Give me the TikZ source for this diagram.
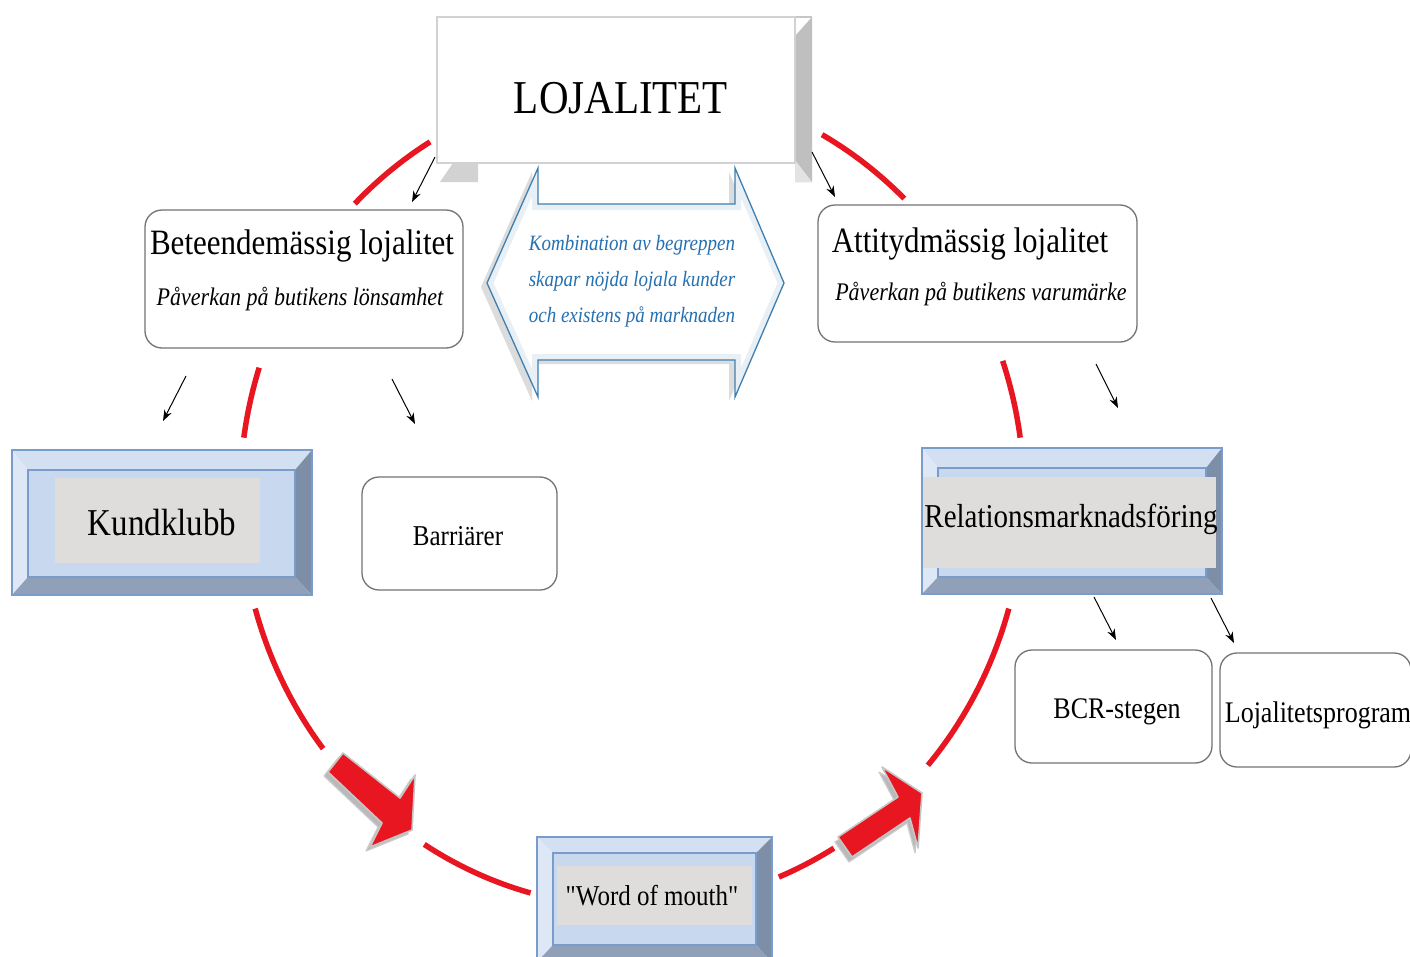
\documentclass[tikz,border=0pt]{standalone}
\usepackage{fontspec}
\setmainfont{Liberation Serif}
\newfontfamily\qfont{Liberation Serif}
\usepackage{graphicx}
\usetikzlibrary{arrows.meta}
\definecolor{redc}{RGB}{232,22,32}
\definecolor{hexblue}{RGB}{62,127,176}
\definecolor{hextext}{RGB}{37,112,176}
\definecolor{bvtopc}{RGB}{211,224,242}
\definecolor{bvleftc}{RGB}{222,231,245}
\definecolor{bvrightc}{RGB}{125,143,168}
\definecolor{bvbottomc}{RGB}{143,160,184}
\definecolor{bvfacec}{RGB}{200,216,238}
\definecolor{bvlinec}{RGB}{122,156,203}
\definecolor{textbgc}{RGB}{222,221,219}
\newcommand{\vs}[1]{\scalebox{1}[1.15]{#1}}
\newcommand{\fs}[1]{\fontsize{#1}{#1}\selectfont}
\newcommand{\bvbox}[8]{%
 \fill[bvtopc] (#1,#2) -- (#3,#2) -- (#7,#6) -- (#5,#6) -- cycle;
 \fill[bvleftc] (#1,#2) -- (#5,#6) -- (#5,#8) -- (#1,#4) -- cycle;
 \fill[bvrightc] (#3,#2) -- (#3,#4) -- (#7,#8) -- (#7,#6) -- cycle;
 \fill[bvbottomc] (#1,#4) -- (#3,#4) -- (#7,#8) -- (#5,#8) -- cycle;
 \fill[bvfacec] (#5,#6) rectangle (#7,#8);
 \draw[bvlinec, line width=1.2] (#1,#2) rectangle (#3,#4);
 \draw[bvlinec, line width=1.2] (#5,#6) rectangle (#7,#8);
}
\begin{document}
\begin{tikzpicture}[x=1pt,y=-1pt,
  txt/.style={inner sep=0pt, anchor=base, text=black},
  rbox/.style={draw=black!55, line width=1.3, rounded corners=17, fill=white},
  redarc/.style={draw=redc, line width=5.5},
  thinarrow/.style={draw=black, line width=1, -{Stealth[length=11pt,width=8pt]}},
  bigarrow/.style={fill=redc, draw=gray!45, line width=1.6, line join=round},
  bigshadow/.style={fill=gray!55, draw=gray!40, line width=1.2, line join=round}]
\useasboundingbox (0,0) rectangle (1410,956);
\clip (0,0) rectangle (1410,956);
\fill[white] (0,0) rectangle (1410,956);

% red ellipse segments
\foreach \a/\b in {225/239, -61/-46, 188/198, -19/-8, 142/164, 105/122, 59/68, 16/41}{
  \draw[redarc] (632,495) ++(\a:392 and 412) arc[start angle=\a, end angle=\b, x radius=392, y radius=412];
}

% big red arrows
\fill[bigshadow] (339,757) -- (396,802) -- (411,779) -- (408,834) -- (366,851) -- (378,827) -- (324,776) -- cycle;
\draw[bigarrow] (343,753) -- (400,798) -- (415,775) -- (412,830) -- (370,847) -- (382,823) -- (328,772) -- cycle;
\fill[bigshadow] (835,842) -- (895,802) -- (879,772) -- (919,798) -- (915,853) -- (907,823) -- (849,862) -- cycle;
\draw[bigarrow] (838,837) -- (898,797) -- (882,767) -- (922,793) -- (918,848) -- (910,818) -- (852,857) -- cycle;

% LOJALITET 3D box
\fill[gray!50] (795,36) -- (812,17) -- (812,182) -- (795,182) -- cycle;
\fill[gray!22] (795,160) -- (812,182) -- (795,182) -- cycle;
\fill[gray!35] (453,163) -- (478,163) -- (478,182) -- (440,182) -- cycle;
\draw[gray!45, line width=1.5] (437,17) -- (812,17);
\draw[gray!35, line width=1.5, fill=white] (437,17) rectangle (795,163);
\node[txt, font=\fs{41}] (loj) at (621,113) {\vs{LOJALITET}};

% double arrow hexagon
\fill[gray!45, opacity=.6] (481,287) -- (532,172) -- (532,208) -- (729,208) -- (729,172) -- (778,287) -- (729,401) -- (729,364) -- (532,364) -- (532,401) -- cycle;
\fill[white] (487,283) -- (538,168) -- (538,204) -- (735,204) -- (735,168) -- (784,283) -- (735,397) -- (735,360) -- (538,360) -- (538,397) -- cycle;
\begin{scope}
\clip (487,283) -- (538,168) -- (538,204) -- (735,204) -- (735,168) -- (784,283) -- (735,397) -- (735,360) -- (538,360) -- (538,397) -- cycle;
\draw[hexblue!12, line width=12] (487,283) -- (538,168) -- (538,204) -- (735,204) -- (735,168) -- (784,283) -- (735,397) -- (735,360) -- (538,360) -- (538,397) -- cycle;
\end{scope}
\draw[hexblue, line width=1.3, line join=miter] (487,283) -- (538,168) -- (538,204) -- (735,204) -- (735,168) -- (784,283) -- (735,397) -- (735,360) -- (538,360) -- (538,397) -- cycle;
\node[txt, font=\fs{19}\itshape, text=hextext] (k1) at (632,250) {\vs{Kombination av begreppen}};
\node[txt, font=\fs{19}\itshape, text=hextext] (k2) at (632,286) {\vs{skapar nöjda lojala kunder}};
\node[txt, font=\fs{19}\itshape, text=hextext] (k3) at (632,322) {\vs{och existens på marknaden}};

% rounded boxes
\draw[rbox] (145,210) rectangle (463,348);
\node[txt, font=\fs{31}] (beh) at (302,254) {\vs{Beteendemässig lojalitet}};
\node[txt, font=\fs{22}\itshape] (behs) at (300,305) {\vs{Påverkan på butikens lönsamhet}};
\draw[rbox] (818,205) rectangle (1137,342);
\node[txt, font=\fs{31}] (att) at (970,252) {\vs{Attitydmässig lojalitet}};
\node[txt, font=\fs{22}\itshape] (atts) at (981,300) {\vs{Påverkan på butikens varumärke}};
\draw[rbox] (362,477) rectangle (557,590);
\node[txt, font=\fs{25}] (bar) at (458,545) {\vs{Barriärer}};
\draw[rbox] (1015,650) rectangle (1212,763);
\node[txt, font=\fs{26}] (bcr) at (1117,718) {\vs{BCR-stegen}};
\draw[rbox] (1220,653) rectangle (1411,767);
\node[txt, font=\fs{26}] (lprog) at (1318,722) {\vs{Lojalitetsprogram}};

% bevel boxes
\bvbox{12}{450}{312}{595}{28}{470}{295}{577}
\fill[textbgc] (55,478) rectangle (260,563);
\node[txt, font=\fs{33}] (kund) at (162,535) {\vs{Kundklubb}};

\bvbox{922}{448}{1222}{594}{938}{468}{1206}{577}
\fill[textbgc] (923,477) rectangle (1216,568);
\node[txt, font=\fs{29}] (rel) at (1071,527) {\vs{Relationsmarknadsföring}};

\bvbox{537}{837}{772}{962}{553}{853}{756}{945}
\fill[textbgc] (557,866) rectangle (752,925);
\node[txt, font=\qfont\fs{25}] (wom) at (652,905) {\vs{"Word of mouth"}};

% thin black arrows
\coordinate (a1s) at (435,157); \coordinate (a1e) at (412,202);
\coordinate (a2s) at (812,152); \coordinate (a2e) at (835,197);
\coordinate (a3s) at (186,376); \coordinate (a3e) at (163,421);
\coordinate (a4s) at (392,379); \coordinate (a4e) at (415,424);
\coordinate (a5s) at (1096,364); \coordinate (a5e) at (1118,408);
\coordinate (a6s) at (1094,597); \coordinate (a6e) at (1116,640);
\coordinate (a7s) at (1211,598); \coordinate (a7e) at (1234,643);
\draw[thinarrow] (a1s) -- (a1e);
\draw[thinarrow] (a2s) -- (a2e);
\draw[thinarrow] (a3s) -- (a3e);
\draw[thinarrow] (a4s) -- (a4e);
\draw[thinarrow] (a5s) -- (a5e);
\draw[thinarrow] (a6s) -- (a6e);
\draw[thinarrow] (a7s) -- (a7e);
\end{tikzpicture}
\end{document}
